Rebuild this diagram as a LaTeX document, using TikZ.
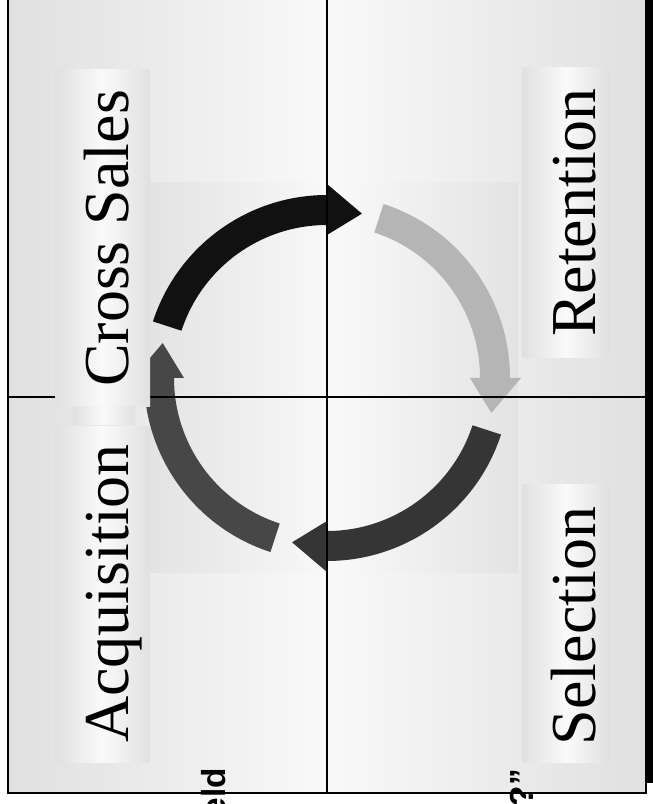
\documentclass[tikz,border=0pt]{standalone}
\usepackage{fontspec}
\setmainfont{Liberation Serif}
\newfontfamily\fragfont{Liberation Sans}
\usetikzlibrary{calc}
\definecolor{paneledge}{RGB}{224,224,224}
\definecolor{panelmid}{RGB}{249,249,249}
\definecolor{coal}{RGB}{17,17,17}
\definecolor{silver}{RGB}{181,181,181}
\definecolor{slate}{RGB}{53,53,53}
\definecolor{smoke}{RGB}{71,71,71}
\tikzset{
  tab/.style={left color=paneledge,right color=paneledge,middle color=white!98!black},
  lbl/.style={rotate=90,anchor=base,inner sep=0pt,text=black,
    font=\fontsize{48}{50}\selectfont},
  frag/.style={rotate=90,anchor=base east,inner sep=0pt,
    font=\fragfont\bfseries\fontsize{25}{27}\selectfont},
  divider/.style={line width=1.5pt,draw=black},
}

\begin{document}
\begin{tikzpicture}[x=0.75pt,y=0.75pt]
  \useasboundingbox (0,0) rectangle (653,804);
  \clip (0,0) rectangle (653,804);
  % panels
  \shade[left color=paneledge,right color=panelmid] (8,11) rectangle (327,804);
  \shade[left color=panelmid,right color=paneledge] (327,11) rectangle (646,804);
  \shade[left color=paneledge!90!white,right color=paneledge!90!white,middle color=panelmid]
    (150,231) rectangle (518,621);
  % cycle arrows
  \begin{scope}[shift={(327,426)}]
    \foreach \s/\c in {162/coal,72/silver,-18/slate,-108/smoke}{
      \fill[\c] (\s:183) arc[start angle=\s,end angle=\s-72,radius=183]
        -- ({\s-72}:194) -- ({\s-84}:168) -- ({\s-72}:143) -- ({\s-72}:153)
        arc[start angle=\s-72,end angle=\s,radius=153] -- cycle;
    }
  \end{scope}
  % dividers
  \draw[divider] (327,11) -- (327,810);
  \draw[divider] (8,407) -- (646,407);
  % label boxes
  \shade[tab] (55,397) rectangle (150,734);
  \shade[tab] (73,379) rectangle (135,397);
  \shade[tab] (55,41) rectangle (150,377);
  \shade[tab] (522,446) rectangle (610,736);
  \shade[tab] (522,41) rectangle (610,319);
  \node[lbl] (cross) at (128,565.5) {Cross Sales};
  \node[lbl] (acq) at (128,210.5) {Acquisition};
  \node[lbl] (ret) at (595,591.5) {Retention};
  \node[lbl] (sel) at (595,178) {Selection};
  % cut-off text at the bottom
  \node[frag] (fragl) at (225,36) {eld};
  \node[frag] (fragr) at (533,35) {?”};
  % frame
  \draw[divider] (8,810) -- (8,11) -- (646,11) -- (646,810);
  \fill[black] (646,21) rectangle (653,810);
\end{tikzpicture}
\end{document}
